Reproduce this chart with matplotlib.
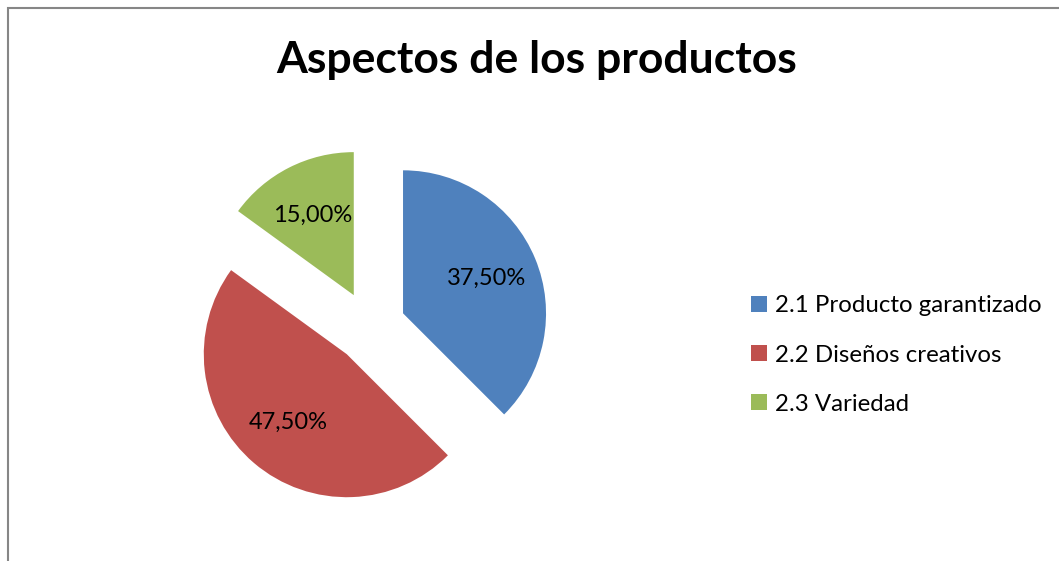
import matplotlib
matplotlib.use("Agg")
import matplotlib.pyplot as plt
from matplotlib.patches import Rectangle

plt.rcParams['font.family'] = ['Lato', 'DejaVu Sans']

categories = ['2.1 Producto garantizado', '2.2 Diseños creativos', '2.3 Variedad']
values = [37.5, 47.5, 15.0]
colors = ['#4F81BD', '#C0504D', '#9BBB59']
title = 'Aspectos de los productos'

W, H = 1059, 561
fig = plt.figure(figsize=(W / 100, H / 100), dpi=100)

# chart frame (right and bottom edges fall outside the picture)
fig.patches.append(Rectangle((8 / W, -0.05), 1.2, 1 - 8 / H + 0.05,
                             transform=fig.transFigure, fill=False,
                             edgecolor='#868686', linewidth=1.5))

# pie: centre at (370, 327) px, radius 143 px
r = 143
cx, cy = 370, H - 327
ax = fig.add_axes([(cx - 1.5 * r) / W, (cy - 1.5 * r) / H, 3 * r / W, 3 * r / H])
ax.axis('off')

wedges, texts, autotexts = ax.pie(
    values, colors=colors, startangle=90, counterclock=False,
    explode=[0.25] * len(values), autopct=lambda p: f'{p:.2f}%'.replace('.', ','),
    pctdistance=0.63, textprops={'fontsize': 17, 'color': 'black'},
    wedgeprops={'linewidth': 0})
ax.set_xlim(-1.5, 1.5)
ax.set_ylim(-1.5, 1.5)

fig.text(537 / W, 1 - 60 / H, title, ha='center', va='center',
         fontsize=32, fontweight='bold')

fig.legend(wedges, categories, loc='center left',
           bbox_to_anchor=(739 / W, 1 - 355 / H), frameon=False,
           fontsize=17.3, handlelength=0.65, handleheight=0.65,
           handletextpad=0.35, labelspacing=1.17, borderpad=0)

fig.savefig('out.png', dpi=100)
